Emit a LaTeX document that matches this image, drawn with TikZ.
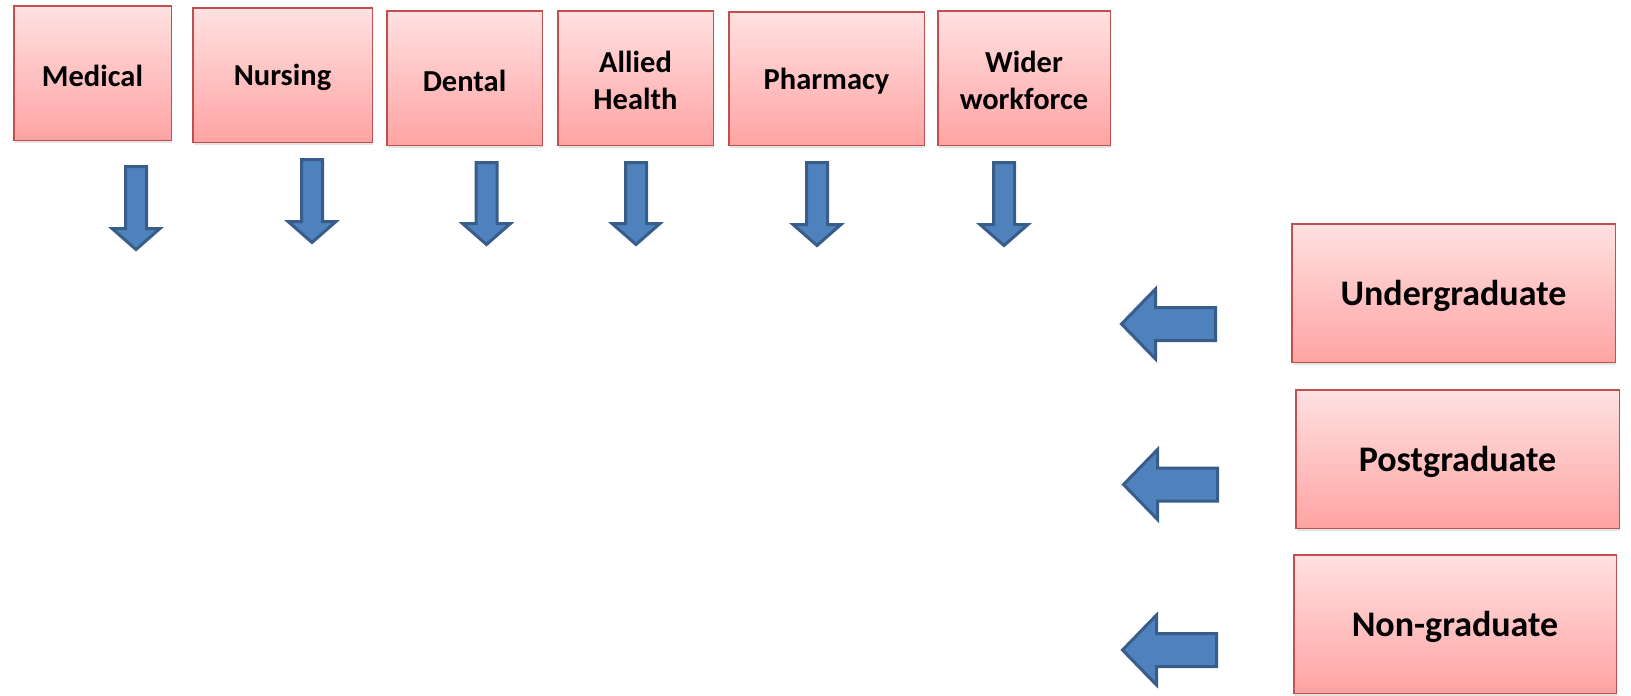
\documentclass[tikz,border=0pt]{standalone}
\usepackage{fontspec}
\setmainfont{Carlito}
\usetikzlibrary{shadows}
\definecolor{boxborder}{HTML}{C0504D}
\definecolor{boxtop}{HTML}{FFE1E1}
\definecolor{boxbot}{HTML}{FFA3A3}
\definecolor{arrfill}{HTML}{4F81BD}
\definecolor{arrline}{HTML}{385D8A}
\newcommand\lowtx[1]{\raisebox{-2.5pt}[\height][\depth]{#1}}
\newcommand\dnarrow[4]{% cx, top, headstart, tip
  \draw[blockarr] (#1-10.5,#2+1.5) -- (#1+10.5,#2+1.5) -- (#1+10.5,#3+1.5) -- (#1+24,#3+1.5) -- (#1,#4-2.5) -- (#1-24,#3+1.5) -- (#1-10.5,#3+1.5) -- cycle;}
\newcommand\lfarrow[4]{% cy, tip, base, right
  \draw[blockarr] (#4-1.5,#1-16.5) -- (#3+1.5,#1-16.5) -- (#3+1.5,#1-35) -- (#2+2.5,#1) -- (#3+1.5,#1+35) -- (#3+1.5,#1+16.5) -- (#4-1.5,#1+16.5) -- cycle;}
\begin{document}
\begin{tikzpicture}[x=1pt,y=-1pt,
  catbox/.style={draw=boxborder, line width=1.5pt, top color=boxtop, bottom color=boxbot,
    drop shadow={shadow xshift=1pt, shadow yshift=-3pt, opacity=0.22},
    font=\fontsize{30.5}{37.2}\selectfont\bfseries, align=center, inner sep=0pt},
  levelbox/.style={catbox, font=\fontsize{36}{44}\selectfont\bfseries},
  blockarr/.style={draw=arrline, fill=arrfill, line width=3pt, line join=miter}]
\useasboundingbox (0,0) rectangle (1631,696);
\node[catbox, minimum width=157.5pt, minimum height=134.5pt] (med) at (92.5,73) {\lowtx{Medical}};
\node[catbox, minimum width=179.5pt, minimum height=134.5pt] (nur) at (282.5,75) {\lowtx{Nursing}};
\node[catbox, minimum width=155.5pt, minimum height=134.5pt] (den) at (464.5,78) {\lowtx{Dental}};
\node[catbox, minimum width=155.5pt, minimum height=134.5pt] (all) at (635.5,78) {\lowtx{Allied}\\\lowtx{Health}};
\node[catbox, minimum width=195.5pt, minimum height=133.5pt] (pha) at (826.5,78.5) {\lowtx{Pharmacy}};
\node[catbox, minimum width=172.5pt, minimum height=134.5pt] (wid) at (1024,78) {\lowtx{Wider}\\\lowtx{workforce}};
\node[levelbox, minimum width=323.5pt, minimum height=138.5pt] (ug) at (1453.5,293) {\lowtx{Undergraduate}};
\node[levelbox, minimum width=323.5pt, minimum height=138.5pt] (pg) at (1457.5,459) {\lowtx{Postgraduate}};
\node[levelbox, minimum width=322.5pt, minimum height=138.5pt] (ng) at (1455,624) {\lowtx{Non-graduate}};
\dnarrow{136}{165}{227}{252}
\dnarrow{312}{158}{220}{245}
\dnarrow{486.5}{161}{222}{247}
\dnarrow{636}{161}{222}{247}
\dnarrow{817}{161}{223}{248}
\dnarrow{1004}{161}{223}{248}
\lfarrow{324}{1119}{1154}{1217}
\lfarrow{484.5}{1121}{1156}{1219}
\lfarrow{650}{1120}{1155}{1218}
\end{tikzpicture}
\end{document}
